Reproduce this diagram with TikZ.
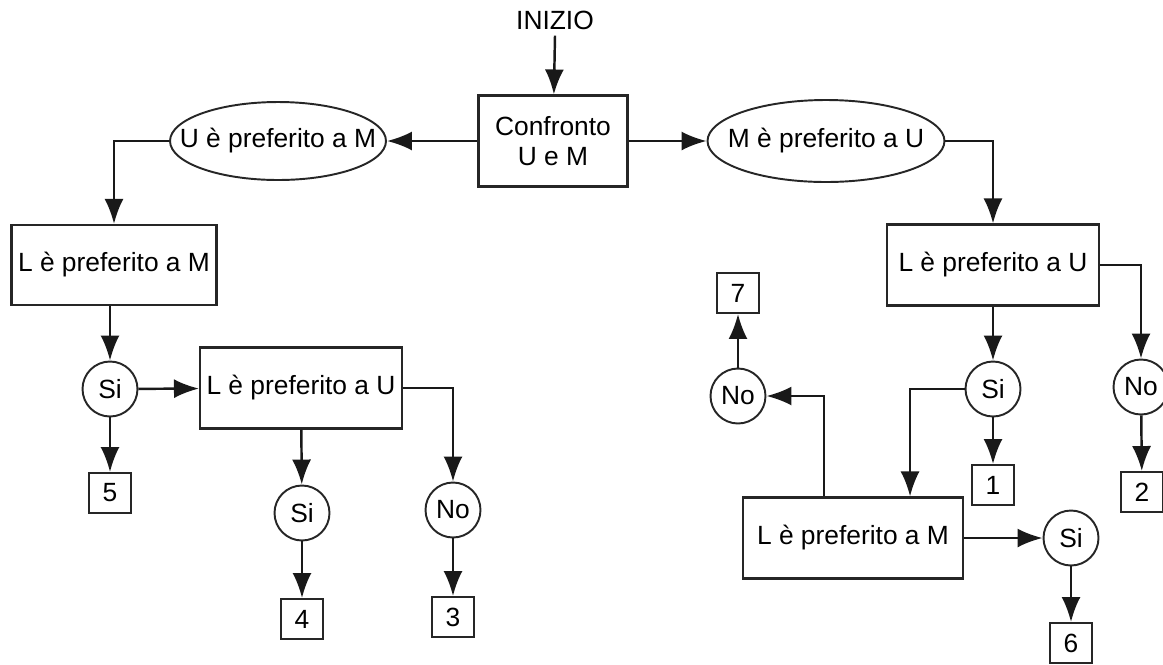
\documentclass[tikz,border=0pt]{standalone}
\usepackage{fontspec}
\setmainfont{Liberation Sans}
\usetikzlibrary{arrows.meta,shapes.geometric}

\begin{document}
\begin{tikzpicture}[x=0.02cm, y=-0.02cm,
		every node/.style={font=\fontsize{15}{17}\selectfont, inner sep=0pt},
		box/.style={draw=black!85, line width=1.2pt, rectangle, minimum height=1.62cm},
		oval/.style={draw=black!85, line width=1.1pt, ellipse},
		ans/.style={draw=black!85, line width=1.1pt, circle, minimum size=1.1cm},
		num/.style={draw=black!85, line width=1.1pt, rectangle, minimum width=0.84cm, minimum height=0.8cm},
		arr/.style={line width=1.4pt, color=black!90, -{Latex[length=0.5cm, width=0.38cm]}}]
			%%%%% START %%%%%
			\useasboundingbox (0, 0) rectangle (1163, 664);
			
			\node (start) at (555, 20) {INIZIO};
			\node[box, minimum width=2.98cm, minimum height=1.82cm, align=center] (cmp) at (553, 141) {Confronto\\U e M};
			
			\node[oval, minimum width=4.32cm, minimum height=1.56cm] (um) at (278, 141) {\makebox[0pt]{U è preferito a M}};
			\node[oval, minimum width=4.74cm, minimum height=1.64cm] (mu) at (826, 141) {\makebox[0pt]{M è preferito a U}};
			
			% ramo sinistro
			\node[box, minimum width=4.1cm, minimum height=1.6cm] (lmA) at (114, 265) {L è preferito a M};
			\node[ans] (siA) at (110, 389) {Si};
			\node[num] (n5) at (110, 493) {5};
			\node[box, minimum width=4.04cm] (luA) at (301, 388) {L è preferito a U};
			\node[ans] (siB) at (302, 513) {Si};
			\node[num] (n4) at (302, 619) {4};
			\node[ans] (noA) at (453, 510) {No};
			\node[num] (n3) at (453, 617) {3};
			
			% ramo destro
			\node[box, minimum width=4.24cm] (luB) at (993, 265) {L è preferito a U};
			\node[ans] (siC) at (993, 389) {Si};
			\node[num] (n1) at (993, 485) {1};
			\node[ans] (noB) at (1141, 387) {No};
			\node[num] (n2) at (1142, 492) {2};
			\node[box, minimum width=4.4cm] (lmB) at (853, 538) {L è preferito a M};
			\node[ans] (noC) at (738, 396) {No};
			\node[num] (n7) at (738, 293) {7};
			\node[ans] (siD) at (1071, 538) {Si};
			\node[num] (n6) at (1071, 643) {6};
			
			\draw[arr] ([yshift=-0.12cm]start.south) -- (cmp);
			\draw[arr] (cmp) -- (um);
			\draw[arr] (cmp) -- (mu);
			
			\draw[arr] (um.west) -| (lmA.north);
			\draw[arr] (lmA.south -| siA) -- (siA);
			\draw[arr] (siA) -- (luA);
			\draw[arr] (siA) -- (n5);
			\draw[arr] (luA) -- (siB);
			\draw[arr] (siB) -- (n4);
			\draw[arr] (luA.east) -| (noA.north);
			\draw[arr] (noA) -- (n3);
			
			\draw[arr] (mu.east) -| (luB.north);
			\draw[arr] (luB.east) -| (noB.north);
			\draw[arr] (noB) -- (n2);
			\draw[arr] (luB) -- (siC);
			\draw[arr] (siC) -- (n1);
			\draw[arr] (siC.west) -| ([xshift=-1.08cm]lmB.north east);
			\draw[arr] ([xshift=-0.58cm]lmB.north) |- (noC.east);
			\draw[arr] (noC) -- (n7);
			\draw[arr] (lmB) -- (siD);
			\draw[arr] (siD) -- (n6);
			
			%%%%% END %%%%%
		\end{tikzpicture}
\end{document}
